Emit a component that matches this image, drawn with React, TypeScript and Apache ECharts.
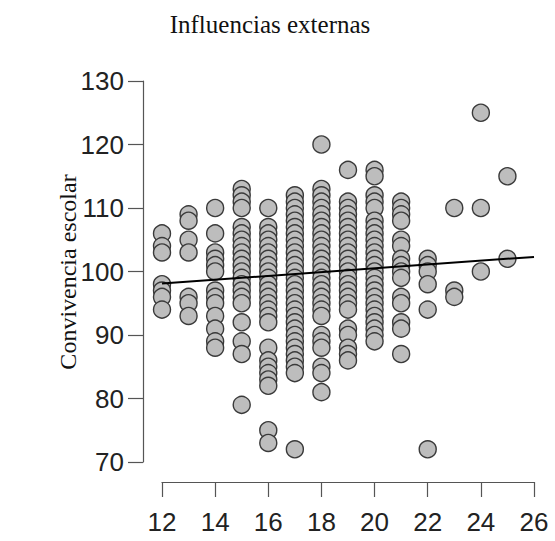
import React, { useEffect, useRef } from "react";
import * as echarts from "echarts";

const xColumns = [12, 13, 14, 15, 16, 17, 18, 19, 20, 21, 22, 23, 24, 25];
const yByColumn: number[][] = [
  [106, 104, 103, 98, 97, 96, 94],
  [109, 108, 105, 103, 96, 95, 93],
  [110, 106, 103, 102, 101, 100, 97, 96, 95, 93, 91, 89, 88],
  [113, 112, 111, 110, 107, 106, 105, 104, 103, 102, 101, 100, 99, 98, 97, 96, 95, 92, 89, 87, 79],
  [110, 107, 106, 105, 104, 103, 102, 101, 100, 99, 98, 97, 96, 95, 94, 93, 92, 88, 86, 85, 84, 83, 82, 75, 73],
  [112, 111, 110, 109, 108, 107, 106, 105, 104, 103, 102, 101, 100, 99, 98, 97, 96, 95, 94, 93, 92, 91, 90, 89, 88, 87, 86, 85, 84, 72],
  [120, 113, 112, 111, 110, 109, 108, 107, 106, 105, 104, 103, 102, 101, 100, 99, 98, 97, 96, 95, 94, 93, 90, 89, 88, 85, 84, 81],
  [116, 111, 110, 109, 108, 107, 106, 105, 104, 103, 102, 101, 100, 99, 98, 97, 96, 95, 94, 91, 90, 88, 87, 86],
  [116, 115, 112, 111, 110, 108, 107, 106, 105, 104, 103, 102, 101, 100, 99, 98, 97, 96, 95, 94, 93, 92, 91, 90, 89],
  [111, 110, 109, 108, 105, 104, 102, 101, 100, 99, 96, 95, 92, 91, 87],
  [102, 101, 100, 98, 94, 72],
  [110, 97, 96],
  [125, 110, 100],
  [115, 102],
];
const fitX = [12, 26];
const fitY = [98.1, 102.3];
const xTicks = [12, 14, 16, 18, 20, 22, 24, 26];
const yTicks = [70, 80, 90, 100, 110, 120, 130];
const titleText = "Influencias externas";
const yTitle = "Convivencia escolar";

export default function App() {
  const ref = useRef<HTMLDivElement>(null);
  useEffect(() => {
    if (!ref.current) return;
    const chart = echarts.init(ref.current, null, { renderer: "svg" });
    const points: number[][] = [];
    xColumns.forEach((x, i) => yByColumn[i].forEach((y) => points.push([x, y])));
    const axisLabelStyle = {
      fontFamily: "Liberation Sans, Arial, sans-serif",
      fontSize: 26,
      color: "#222",
    };
    chart.setOption({
      animation: false,
      backgroundColor: "#fff",
      grid: { left: 162, right: 21, top: 81, bottom: 79, containLabel: false },
      xAxis: {
        type: "value",
        min: xTicks[0],
        max: xTicks[xTicks.length - 1],
        interval: 2,
        offset: 20,
        splitLine: { show: false },
        axisLine: { show: true, onZero: false, lineStyle: { color: "#555", width: 1.2 } },
        axisTick: { show: true, length: 15, lineStyle: { color: "#555", width: 1.2 } },
        axisLabel: { ...axisLabelStyle, margin: 27 },
      },
      yAxis: {
        type: "value",
        min: yTicks[0],
        max: yTicks[yTicks.length - 1],
        interval: 10,
        offset: 19,
        splitLine: { show: false },
        axisLine: { show: true, onZero: false, lineStyle: { color: "#555", width: 1.2 } },
        axisTick: { show: true, length: 15, lineStyle: { color: "#555", width: 1.2 } },
        axisLabel: { ...axisLabelStyle, margin: 19 },
      },
      graphic: [
        {
          type: "text",
          x: 270,
          y: 24,
          style: {
            text: titleText,
            font: '25px "Liberation Serif", "Times New Roman", serif',
            fill: "#111",
            textAlign: "center",
            textVerticalAlign: "middle",
          },
        },
        {
          type: "text",
          x: 68,
          y: 272,
          rotation: Math.PI / 2,
          style: {
            text: yTitle,
            font: '24px "Liberation Serif", "Times New Roman", serif',
            fill: "#111",
            textAlign: "center",
            textVerticalAlign: "middle",
          },
        },
      ],
      series: [
        {
          type: "scatter",
          data: points,
          symbol: "circle",
          symbolSize: 17,
          clip: false,
          itemStyle: { color: "#bdbdbd", borderColor: "#3a3a3a", borderWidth: 1.4, opacity: 1 },
        },
        {
          type: "line",
          data: fitX.map((x, i) => [x, fitY[i]]),
          symbol: "none",
          clip: false,
          lineStyle: { color: "#000", width: 2 },
          z: 5,
        },
      ],
    });
    return () => chart.dispose();
  }, []);
  return (
    <div
      ref={ref}
      style={{ position: "fixed", left: 0, top: 0, width: 555, height: 541, background: "#fff" }}
    />
  );
}
